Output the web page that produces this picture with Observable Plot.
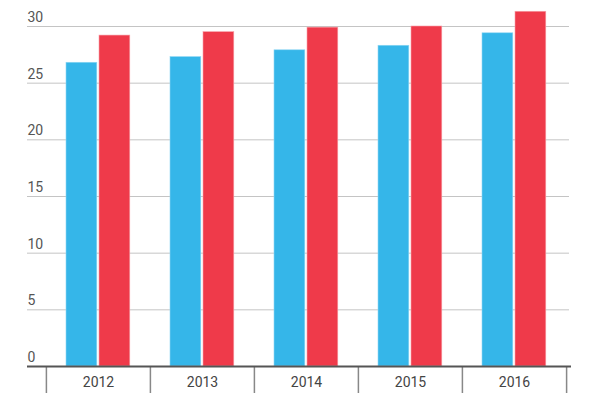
<!DOCTYPE html>
<html>
<head>
<meta charset="utf-8">
<script src="https://cdn.jsdelivr.net/npm/d3@7"></script>
<script src="https://cdn.jsdelivr.net/npm/@observablehq/plot@0.6"></script>
<style>
  html, body { margin: 0; padding: 0; background: #fff; }
  #chart { width: 600px; height: 400px; }
  svg { font-family: Roboto, "Noto Sans", sans-serif; }
</style>
</head>
<body>
<div id="chart"></div>
<script>
const years = ["2012", "2013", "2014", "2015", "2016"];
const blueValues = [26.8, 27.3, 27.9, 28.3, 29.4];
const redValues = [29.2, 29.5, 29.9, 30.0, 31.3];
const yTicks = [0, 5, 10, 15, 20, 25, 30];

const blueData = years.map((y, i) => ({year: y, value: blueValues[i]}));
const redData = years.map((y, i) => ({year: y, value: redValues[i]}));

const W = 600, H = 400;
const xRange = [45, 566];
const bw = (xRange[1] - xRange[0]) / years.length;

const chart = Plot.plot({
  width: W,
  height: H,
  marginTop: 26,
  marginBottom: 34,
  marginLeft: 27,
  marginRight: 31,
  style: {fontFamily: "Roboto, sans-serif", background: "#fff"},
  x: {type: "band", domain: years, range: xRange, padding: 0, axis: null},
  y: {domain: [0, 30], axis: null},
  marks: [
    Plot.ruleY(yTicks.filter(d => d > 0), {stroke: "#c4c4c4", strokeWidth: 1}),
    Plot.barY(blueData, {x: "year", y: "value", fill: "#35b6e9", insetLeft: 20, insetRight: bw - 51, stroke: "#8fd6f3", strokeWidth: 0.6}),
    Plot.barY(redData, {x: "year", y: "value", fill: "#ef3a4a", insetLeft: 53, insetRight: bw - 84, stroke: "#f7a0a8", strokeWidth: 0.6}),
    Plot.text(yTicks, {y: d => d, text: d => String(d), frameAnchor: "left", textAnchor: "start", dy: -9, fontSize: 14, fill: "#555"}),
    Plot.ruleX(years, {x: d => d, y1: 0, y2: 0, dx: -bw / 2, insetBottom: -27, stroke: "#888", strokeWidth: 1.5}),
    Plot.ruleX(years.slice(-1), {x: d => d, y1: 0, y2: 0, dx: bw / 2, insetBottom: -27, stroke: "#888", strokeWidth: 1.5}),
    Plot.ruleY([0], {stroke: "#555", strokeWidth: 2, insetRight: -2}),
    Plot.text(years, {x: d => d, y: 0, text: d => d, dy: 16, fontSize: 14, fill: "#444"})
  ]
});
document.getElementById("chart").appendChild(chart);
</script>
</body>
</html>
